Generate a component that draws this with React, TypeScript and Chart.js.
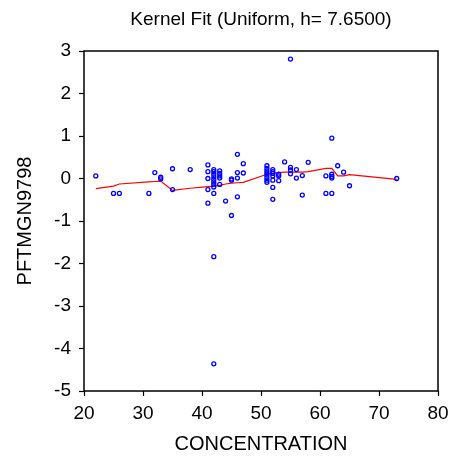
import React, { useEffect, useRef } from "react";
import { Chart, registerables } from "chart.js";

Chart.register(...registerables);

const TITLE = "Kernel Fit (Uniform, h= 7.6500)";
const X_TITLE = "CONCENTRATION";
const Y_TITLE = "PFTMGN9798";

// observed data (CONCENTRATION, PFTMGN9798)
const concentration = [
  22, 25, 26, 31, 32, 33, 33, 35, 35, 38,
  41, 41, 41, 41, 41,
  42, 42, 42, 42, 42, 42, 42, 42, 42, 42, 42,
  43, 43, 43, 43, 43,
  44, 45, 45, 45,
  46, 46, 46, 46, 47, 47,
  51, 51, 51, 51, 51, 51, 51, 51,
  52, 52, 52, 52, 52, 52, 52,
  53, 53, 53, 54, 55, 55, 55, 55, 56, 56, 57, 57, 58,
  61, 61, 62, 62, 62, 62, 62, 63, 64, 65, 73,
];
const pftmgn = [
  0.06, -0.35, -0.35, -0.35, 0.14, 0.03, -0.01, 0.23, -0.26, 0.21,
  0.32, 0.16, 0.0, -0.26, -0.58,
  0.21, 0.16, 0.1, 0.04, -0.02, -0.08, -0.14, -0.2, -0.35, -1.84, -4.36,
  0.18, 0.12, 0.06, 0.01, -0.14,
  -0.53, -0.01, -0.04, -0.87,
  0.57, 0.14, 0.01, -0.43, 0.35, 0.13,
  0.3, 0.24, 0.18, 0.13, 0.08, 0.02, -0.04, -0.09,
  0.21, 0.16, 0.12, 0.06, -0.04, -0.21, -0.49,
  0.1, 0.06, -0.05, 0.39, 2.81, 0.26, 0.2, 0.11, 0.21, 0.01, 0.07, -0.39, 0.38,
  0.06, -0.35, 0.95, 0.1, 0.05, 0.01, -0.35, 0.3, 0.15, -0.17, 0.0,
];

// kernel fit evaluated at the distinct x values
const fitX = [22, 25, 26, 31, 32, 33, 35, 38, 41, 42, 43, 44, 45, 46, 47, 51, 52, 53, 54, 55, 56, 57, 58, 61, 62, 63, 64, 65, 73];
const fitY = [-0.24, -0.18, -0.13, -0.08, -0.07, -0.06, -0.28, -0.23, -0.19, -0.18, -0.16, -0.13, -0.11, -0.1, -0.09, 0.1, 0.12, 0.14, 0.15, 0.15, 0.15, 0.15, 0.16, 0.24, 0.24, 0.06, 0.06, 0.09, -0.02];

const X_MIN = 20, X_MAX = 80, X_STEP = 10;
const Y_MIN = -5, Y_MAX = 3, Y_STEP = 1;

const FONT = "'Liberation Sans', Arial, Helvetica, sans-serif";

const framePlugin = {
  id: "frame",
  afterDatasetsDraw(chart: any) {
    const { ctx, chartArea } = chart;
    ctx.save();
    ctx.strokeStyle = "#000";
    ctx.lineWidth = 1.5;
    ctx.strokeRect(chartArea.left, chartArea.top, chartArea.right - chartArea.left, chartArea.bottom - chartArea.top);
    ctx.restore();
  },
};

// title centred over the plot area (as in the reference)
const titlePlugin = {
  id: "plotTitle",
  afterDraw(chart: any) {
    const { ctx, chartArea } = chart;
    ctx.save();
    ctx.fillStyle = "#000";
    ctx.font = `19px ${FONT}`;
    ctx.textAlign = "center";
    ctx.textBaseline = "middle";
    ctx.fillText(TITLE, (chartArea.left + chartArea.right) / 2, chartArea.top - 31);
    ctx.restore();
  },
};

export default function App() {
  const ref = useRef<HTMLCanvasElement | null>(null);
  useEffect(() => {
    if (!ref.current) return;
    Chart.defaults.color = "#000";
    const points = concentration.map((x, i) => ({ x, y: pftmgn[i] }));
    const fit = fitX.map((x, i) => ({ x, y: fitY[i] }));
    const chart = new Chart(ref.current, {
      type: "scatter",
      data: {
        datasets: [
          {
            label: "fit",
            type: "line",
            data: fit,
            borderColor: "#ff0000",
            borderWidth: 1.2,
            pointRadius: 0,
            fill: false,
            tension: 0,
            order: 2,
          } as any,
          {
            label: "data",
            data: points,
            borderColor: "#0000ff",
            backgroundColor: "rgba(0,0,0,0)",
            pointRadius: 2,
            pointBorderWidth: 1.3,
            order: 1,
          },
        ],
      },
      options: {
        responsive: false,
        animation: false,
        layout: { padding: { left: 0, right: 13, top: 51, bottom: 0 } },
        plugins: {
          legend: { display: false },
          tooltip: { enabled: false },
          title: { display: false },
        },
        scales: {
          x: {
            type: "linear",
            min: X_MIN,
            max: X_MAX,
            ticks: { stepSize: X_STEP, color: "#000", font: { family: FONT, size: 19 }, padding: 6, maxRotation: 0 },
            grid: { display: true, drawOnChartArea: false, drawTicks: true, tickLength: 5, color: "#000", tickWidth: 1.2 },
            border: { display: false },
            title: { display: true, text: X_TITLE, color: "#000", font: { family: FONT, size: 20 }, padding: { top: 0, bottom: 3.5 } },
            afterFit(scale: any) {
              scale.height = 69;
              scale.paddingLeft = 0;
              scale.paddingRight = 0;
            },
          },
          y: {
            type: "linear",
            min: Y_MIN,
            max: Y_MAX,
            ticks: { stepSize: Y_STEP, color: "#000", font: { family: FONT, size: 19 }, padding: 8 },
            grid: { display: true, drawOnChartArea: false, drawTicks: true, tickLength: 5, color: "#000", tickWidth: 1.2 },
            border: { display: false },
            title: { display: true, text: Y_TITLE, color: "#000", font: { family: FONT, size: 20 }, padding: { top: 13, bottom: 0 } },
            afterFit(scale: any) {
              scale.width = 84;
              scale.paddingTop = 0;
              scale.paddingBottom = 0;
            },
          },
        },
      },
      plugins: [framePlugin, titlePlugin],
    });
    return () => chart.destroy();
  }, []);
  return (
    <div style={{ position: "absolute", left: 0, top: 0, width: 451, height: 460, background: "#fff" }}>
      <canvas ref={ref} width={451} height={460} style={{ display: "block" }} />
    </div>
  );
}
